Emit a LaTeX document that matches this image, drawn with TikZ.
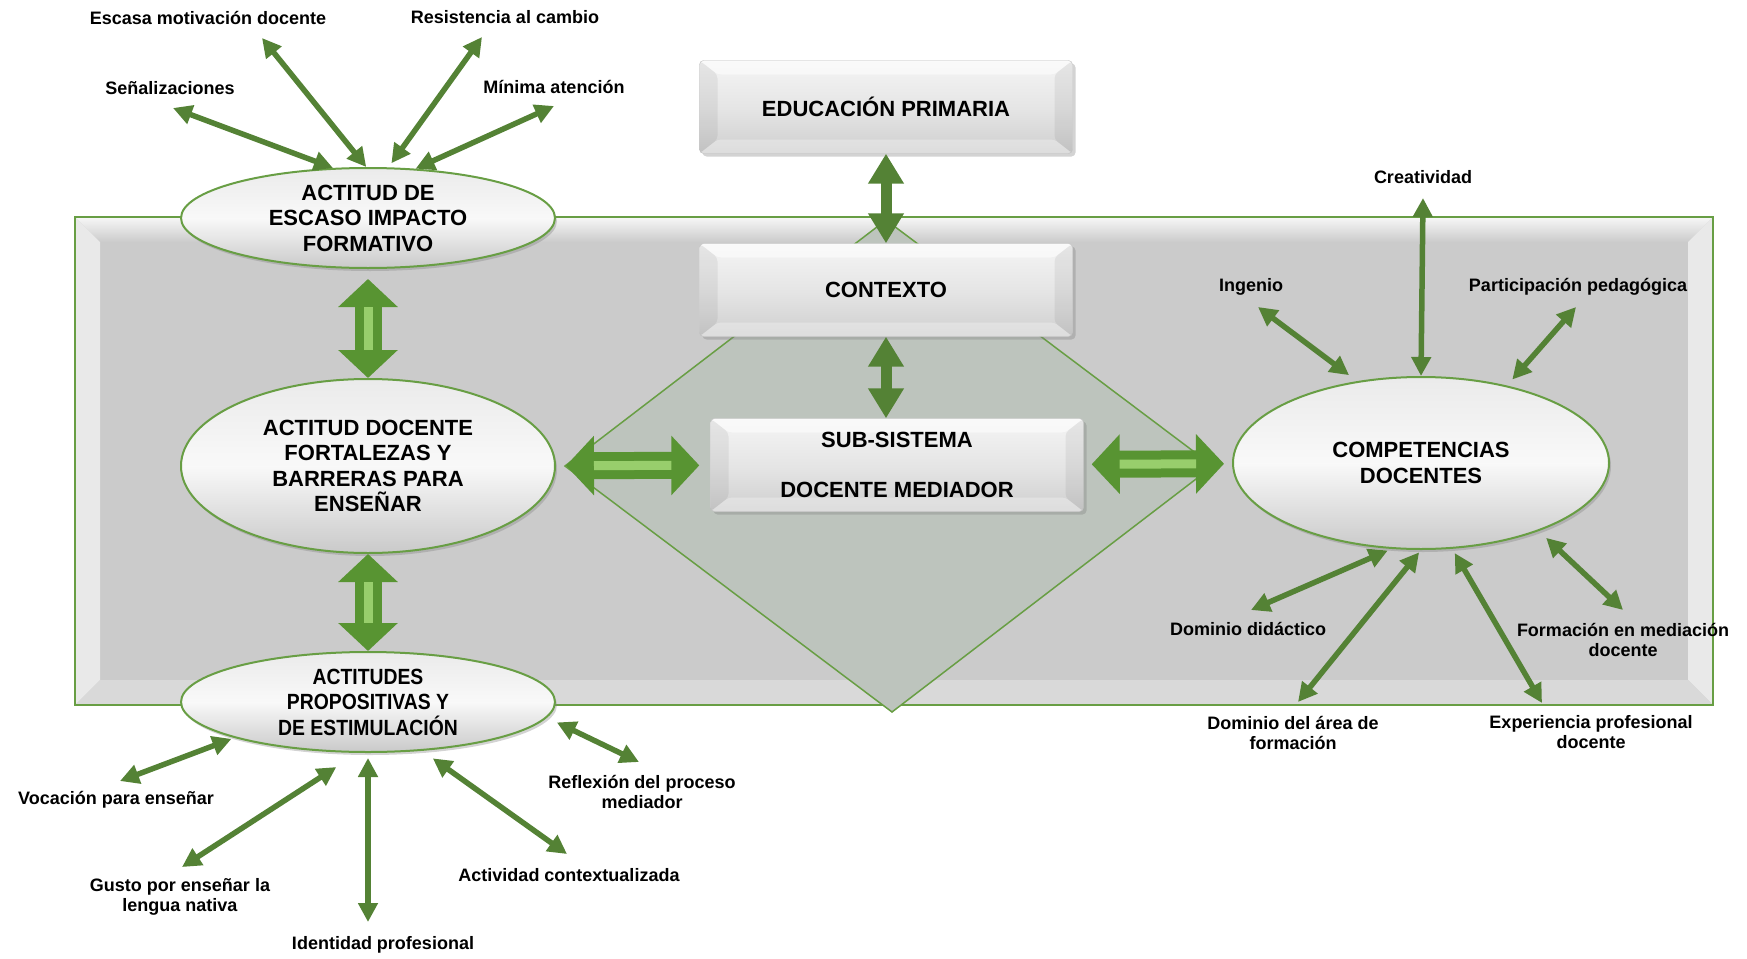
\documentclass[tikz,border=0pt]{standalone}
\usepackage{fontspec}
\setmainfont{Liberation Sans}
\newfontfamily\narrowsans[FakeStretch=0.88]{Liberation Sans}
\usetikzlibrary{arrows.meta,shapes.geometric,shadows,positioning}

\definecolor{arrowgreen}{RGB}{84,130,53}
\definecolor{framegreen}{RGB}{104,158,68}
\definecolor{bigdark}{RGB}{88,148,50}
\definecolor{biglight}{RGB}{152,206,108}
\definecolor{panelgray}{RGB}{203,203,203}
\definecolor{diamondgray}{RGB}{189,196,189}

\def\titlesize{\fontsize{22}{25.5}\selectfont\bfseries}
\def\labelsize{\fontsize{18}{20}\selectfont\bfseries}

\begin{document}
\begin{tikzpicture}[x=1pt,y=-1pt,
    ellip/.style={ellipse, draw=framegreen, line width=2pt, top color=gray!16,
        bottom color=gray!42, middle color=gray!5,
        drop shadow={opacity=0.35,shadow xshift=2pt,shadow yshift=-3pt},
        inner sep=0pt, align=center, font=\titlesize},
    box/.style={rectangle, rounded corners=4pt, draw=gray!50, top color=gray!8,
        bottom color=gray!38, middle color=gray!20,
        drop shadow={opacity=0.35,shadow xshift=3pt,shadow yshift=-3pt},
        minimum width=373pt, minimum height=93pt, align=center, font=\titlesize,
        path picture={
            \fill[white,opacity=.5] (path picture bounding box.north west) -- (path picture bounding box.north east)
                -- ([shift={(-18pt,-14pt)}]path picture bounding box.north east) -- ([shift={(18pt,-14pt)}]path picture bounding box.north west) -- cycle;
            \fill[black,opacity=.06] (path picture bounding box.north west) -- ([shift={(18pt,-14pt)}]path picture bounding box.north west)
                -- ([shift={(18pt,14pt)}]path picture bounding box.south west) -- (path picture bounding box.south west) -- cycle;
            \fill[black,opacity=.06] (path picture bounding box.north east) -- ([shift={(-18pt,-14pt)}]path picture bounding box.north east)
                -- ([shift={(-18pt,14pt)}]path picture bounding box.south east) -- (path picture bounding box.south east) -- cycle;
            \fill[white,opacity=.3] (path picture bounding box.south west) -- (path picture bounding box.south east)
                -- ([shift={(-18pt,14pt)}]path picture bounding box.south east) -- ([shift={(18pt,14pt)}]path picture bounding box.south west) -- cycle;
        }},
    lbl/.style={align=center, font=\labelsize, inner sep=0pt},
    smallarrow/.style={draw=arrowgreen, line width=5.5pt,
        {Triangle[length=19pt,width=19pt]}-{Triangle[length=19pt,width=19pt]}},
    midarrow/.style={draw=arrowgreen, line width=11pt,
        {Triangle[length=30pt,width=34pt]}-{Triangle[length=30pt,width=34pt]}},
    bigarrow/.style={draw=bigdark, line width=27pt,
        {Triangle[length=28pt,width=58pt]}-{Triangle[length=28pt,width=58pt]}},
    bigshine/.style={draw=biglight, line width=9pt}]

\useasboundingbox (0,0) rectangle (1747,958);

% panel
\fill[panelgray] (75,217) rectangle (1713,705);
\shade[top color=gray!6, bottom color=panelgray] (75,217) -- (1713,217) -- (1688,242) -- (100,242) -- cycle;
\fill[gray!17] (75,217) -- (100,242) -- (100,680) -- (75,705) -- cycle;
\fill[gray!17] (1713,217) -- (1688,242) -- (1688,680) -- (1713,705) -- cycle;
\fill[gray!30] (75,705) -- (100,680) -- (1688,680) -- (1713,705) -- cycle;
\draw[framegreen, line width=2.5pt] (75,217) rectangle (1713,705);

% diamond
\draw[framegreen, line width=1.5pt, fill=diamondgray] (886,220) -- (1213,466) -- (892,712) -- (565,466) -- cycle;

% boxes
\node[box] (edu) at (886,107) {EDUCACIÓN PRIMARIA};
\node[box] (ctx) at (886,290) {CONTEXTO};
\node[box] (sub) at (897,465) {SUB-SISTEMA\\[25pt]DOCENTE MEDIADOR};

% ellipses
\node[ellip, minimum width=374pt, minimum height=100pt] (e1) at (368,218) {ACTITUD DE\\ESCASO IMPACTO\\FORMATIVO};
\node[ellip, minimum width=374pt, minimum height=174pt] (e2) at (368,466) {ACTITUD DOCENTE\\FORTALEZAS Y\\BARRERAS PARA\\ENSEÑAR};
\node[ellip, minimum width=374pt, minimum height=100pt, font=\narrowsans\titlesize] (e3) at (368,702) {ACTITUDES\\PROPOSITIVAS Y\\DE ESTIMULACIÓN};
\node[ellip, minimum width=376pt, minimum height=172pt] (comp) at (1421,463) {COMPETENCIAS\\DOCENTES};

% big arrows
\draw[bigarrow, shorten <=10pt] (e1) -- (e2);
\draw[bigshine, shorten <=38pt, shorten >=28pt] (e1) -- (e2);
\draw[bigarrow] (e2) -- (e3);
\draw[bigshine, shorten <=28pt, shorten >=28pt] (e2) -- (e3);
\draw[bigarrow, shorten <=10pt, shorten >=11pt] (e2) -- (sub);
\draw[bigshine, shorten <=38pt, shorten >=39pt] (e2) -- (sub);
\draw[bigarrow, shorten <=8pt, shorten >=8pt] (sub) -- (comp);
\draw[bigshine, shorten <=36pt, shorten >=36pt] (sub) -- (comp);
\draw[midarrow] (edu) -- (ctx);
\draw[midarrow] (ctx) -- (ctx |- sub.north);

% labels
\node[lbl] (lsen) at (170,88) {Señalizaciones};
\node[lbl] (lesc) at (208,18) {Escasa motivación docente};
\node[lbl] (lres) at (505,17) {Resistencia al cambio};
\node[lbl] (lmin) at (554,87) {Mínima atención};
\node[lbl] (lvoc) at (116,800) {Vocación para enseñar};
\node[lbl] (lgus) at (180,897) {Gusto por enseñar la\\lengua nativa};
\node[lbl] (lide) at (383,945) {Identidad profesional};
\node[lbl] (lact) at (569,875) {Actividad contextualizada};
\node[lbl] (lref) at (642,792) {Reflexión del proceso\\mediador};
\node[lbl] (lcre) at (1423,177) {Creatividad};
\node[lbl] (ling) at (1251,287) {Ingenio};
\node[lbl] (lpar) at (1578,287) {Participación pedagógica};
\node[lbl] (ldid) at (1248,629) {Dominio didáctico};
\node[lbl] (lare) at (1293,733) {Dominio del área de\\formación};
\node[lbl] (lexp) at (1591,732) {Experiencia profesional\\docente};
\node[lbl] (lfor) at (1623,640) {Formación en mediación\\docente};

% free ends of the small arrows
\coordinate (tsen) at (173,108);
\coordinate (tesc) at (262,38);
\coordinate (tres) at (482,37);
\coordinate (tmin) at (554,106);
\coordinate (tvoc) at (120,781);
\coordinate (tgus) at (182,867);
\coordinate (tide) at (368,922);
\coordinate (tact) at (567,854);
\coordinate (tref) at (639,762);
\coordinate (tcre) at (1423,198);
\coordinate (ting) at (1258,307);
\coordinate (tpar) at (1576,307);
\coordinate (tdid) at (1251,610);
\coordinate (tare) at (1298,702);
\coordinate (texp) at (1542,703);
\coordinate (tfor) at (1623,610);

% small arrows
\foreach \t/\a/\s in {tsen/125/0pt, tesc/92/0pt, tres/68/5pt, tmin/46/0pt}{
    \draw[smallarrow, shorten >=\s] (\t) -- (e1.\a);
}
\foreach \t/\a/\s in {tvoc/195/3pt, tgus/259/26pt, tide/270/5pt, tact/318/13pt, tref/355/11pt}{
    \draw[smallarrow, shorten >=\s] (\t) -- (e3.\a);
}
\foreach \t/\a/\s in {tcre/90/0pt, ting/128/10pt, tpar/42/8pt, tdid/251/4pt, tare/270/3pt, texp/290/5pt, tfor/330/10pt}{
    \draw[smallarrow, shorten >=\s] (\t) -- (comp.\a);
}

\end{tikzpicture}
\end{document}
